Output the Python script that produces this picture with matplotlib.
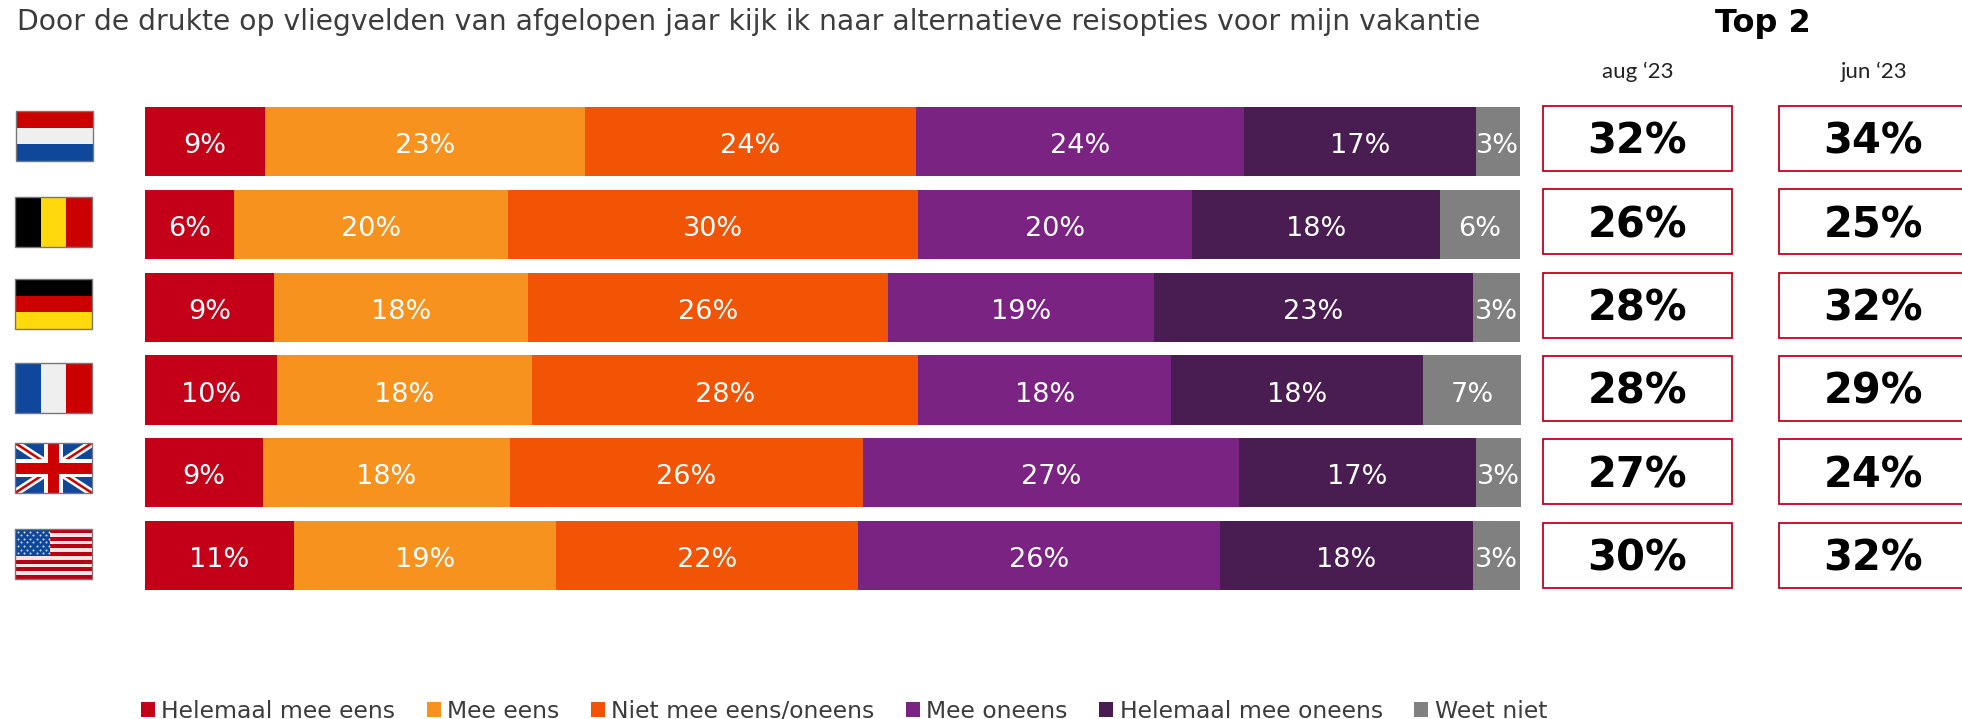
import matplotlib
matplotlib.use("Agg")
import matplotlib.pyplot as plt
from matplotlib.patches import Rectangle

W, H = 1962, 719

title = "Door de drukte op vliegvelden van afgelopen jaar kijk ik naar alternatieve reisopties voor mijn vakantie"
answers = ["Helemaal mee eens", "Mee eens", "Niet mee eens/oneens", "Mee oneens", "Helemaal mee oneens", "Weet niet"]
colors = ["#C40018", "#F7921E", "#F25405", "#7B2382", "#4A1D52", "#808080"]
countries = ["NL", "BE", "DE", "FR", "UK", "US"]

helemaal_eens = [8.7, 6.5, 9.4, 9.6, 8.6, 10.8]
mee_eens = [23.3, 19.9, 18.4, 18.5, 17.9, 19.1]
neutraal = [24.0, 29.8, 26.2, 28.1, 25.7, 21.9]
mee_oneens = [23.9, 19.9, 19.3, 18.4, 27.3, 26.3]
helemaal_oneens = [16.8, 18.0, 23.2, 18.3, 17.2, 18.4]
weet_niet = [3.2, 5.8, 3.4, 7.1, 3.3, 3.4]
series = [helemaal_eens, mee_eens, neutraal, mee_oneens, helemaal_oneens, weet_niet]

top2_aug = [32, 26, 28, 28, 27, 30]
top2_jun = [34, 25, 32, 29, 24, 32]

RED = "#C8001E"
TEXT = "#3C3C3C"


def pixel_rect(x0, y0, x1, y1):
    return [x0 / W, 1 - y1 / H, (x1 - x0) / W, (y1 - y0) / H]


def draw_flag(ax, code, x, y, w=77, h=50):
    clip = Rectangle((x, y), w, h, transform=ax.transData)

    def rect(rx, ry, rw, rh, c, z=2):
        ax.add_patch(Rectangle((x + rx * w, y + ry * h), rw * w, rh * h, fc=c, ec="none", zorder=z))

    if code == "NL":
        for i, c in enumerate(["#CC0000", "#EFEFEF", "#0F479B"]):
            rect(0, i / 3, 1, 1 / 3, c)
    elif code == "BE":
        for i, c in enumerate(["#000000", "#FFD90C", "#CC0000"]):
            rect(i / 3, 0, 1 / 3, 1, c)
    elif code == "DE":
        for i, c in enumerate(["#000000", "#CC0000", "#FFD90C"]):
            rect(0, i / 3, 1, 1 / 3, c)
    elif code == "FR":
        for i, c in enumerate(["#0F479B", "#EFEFEF", "#CC0000"]):
            rect(i / 3, 0, 1 / 3, 1, c)
    elif code == "UK":
        rect(0, 0, 1, 1, "#0F479B")
        for xs, ys in [((x, x + w), (y, y + h)), ((x, x + w), (y + h, y))]:
            white, = ax.plot(xs, ys, color="white", lw=5.5, zorder=3, solid_capstyle="butt")
            red, = ax.plot(xs, ys, color="#CC0000", lw=1.8, zorder=4, solid_capstyle="butt")
            white.set_clip_path(clip)
            red.set_clip_path(clip)
        rect(0.38, 0, 0.24, 1, "white", 5)
        rect(0, 0.32, 1, 0.36, "white", 5)
        rect(0.43, 0, 0.14, 1, "#CC0000", 6)
        rect(0, 0.39, 1, 0.22, "#CC0000", 6)
    elif code == "US":
        for i in range(13):
            rect(0, i / 13, 1, 1 / 13, "#B80012" if i % 2 == 0 else "#F6E3E3")
        rect(0, 0, 0.46, 7 / 13, "#0F479B", 3)
        sx, sy = [], []
        for r in range(7):
            for c in range(6 - r % 2):
                sx.append(x + (0.04 + 0.08 * c + 0.04 * (r % 2)) * w)
                sy.append(y + (0.05 + 0.072 * r) * h)
        ax.scatter(sx, sy, s=2, color="#DCE6F5", linewidths=0, zorder=4)
    ax.add_patch(Rectangle((x, y), w, h, fc="none", ec="#777777", lw=1, zorder=8))


fig = plt.figure(figsize=(W / 100, H / 100), dpi=100)
plt.rcParams["font.family"] = ["DejaVu Sans"]

# bars
ax = fig.add_axes(pixel_rect(145, 100.2, 1521, 597))
rows = list(range(len(countries)))
left = [0] * len(countries)
handles = []
for vals, color, name in zip(series, colors, answers):
    bars = ax.barh(rows, vals, left=left, height=0.835, color=color, label=name)
    handles.append(bars)
    for r, v, l in zip(rows, vals, left):
        ax.text(l + v / 2, r + 0.14, "{:.0f}%".format(v), color="white", fontsize=19.5, ha="center", va="baseline")
    left = [a + b for a, b in zip(left, vals)]
ax.set_xlim(0, 100)
ax.set_ylim(5.5, -0.5)
ax.axis("off")

# everything around the bars, in pixels
over = fig.add_axes([0, 0, 1, 1])
over.set_xlim(0, W)
over.set_ylim(H, 0)
over.axis("off")
over.patch.set_alpha(0)

over.text(17, 30, title, fontsize=20.3, color=TEXT, ha="left", va="baseline")
over.text(1763, 32, "Top 2", fontsize=23, fontweight="bold", color="black", ha="center", va="baseline")
over.text(1638, 72, "aug \u201823", fontsize=16, family="Lato", color="#222222", ha="center", va="center")
over.text(1874, 72, "jun \u201823", fontsize=16, family="Lato", color="#222222", ha="center", va="center")

flag_x = [16, 15, 15, 15, 15, 15]
flag_y = [111, 197, 279, 363, 443, 529]
for code, fx, fy in zip(countries, flag_x, flag_y):
    draw_flag(over, code, fx, fy)

for r, a, j in zip(rows, top2_aug, top2_jun):
    top = 106 + r * 83.3
    over.add_patch(Rectangle((1543, top), 189, 65, fc="white", ec=RED, lw=1.3))
    over.add_patch(Rectangle((1779, top), 189, 65, fc="white", ec=RED, lw=1.3))
    over.text(1637.5, top + 48, "{}%".format(a), fontsize=30, fontweight="bold", color="black", ha="center", va="baseline")
    over.text(1873.5, top + 48, "{}%".format(j), fontsize=30, fontweight="bold", color="black", ha="center", va="baseline")

fig.legend(handles=handles, loc="center left", bbox_to_anchor=(141 / W, 1 - 711 / H), ncol=6, frameon=False,
           fontsize=16.9, labelcolor=TEXT, handlelength=0.6, handleheight=0.6, handletextpad=0.26,
           columnspacing=1.35, borderpad=0, borderaxespad=0)

fig.savefig("out.png", dpi=100)
